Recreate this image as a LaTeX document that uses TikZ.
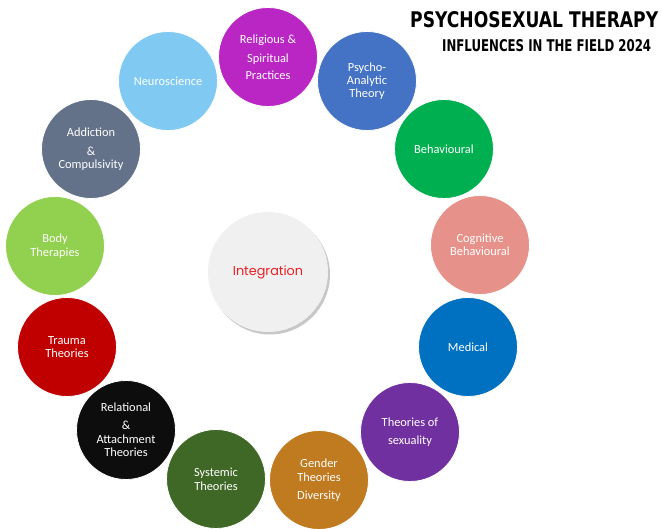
\documentclass[tikz,border=0pt]{standalone}
\usepackage{fontspec}
\setmainfont{Carlito}
\newfontfamily\titlefont{DejaVu Sans}
\newfontfamily\intfont{Poppins}
\usetikzlibrary{shadows}
\definecolor{crelig}{RGB}{185,38,196}
\definecolor{cpsycho}{RGB}{68,114,196}
\definecolor{cneuro}{RGB}{128,201,242}
\definecolor{caddict}{RGB}{99,114,137}
\definecolor{cbody}{RGB}{146,208,80}
\definecolor{ctrauma}{RGB}{192,0,0}
\definecolor{crel}{RGB}{13,13,13}
\definecolor{csys}{RGB}{63,104,38}
\definecolor{cgender}{RGB}{192,122,32}
\definecolor{csex}{RGB}{112,48,160}
\definecolor{cmed}{RGB}{0,112,192}
\definecolor{ccog}{RGB}{230,146,138}
\definecolor{cbeh}{RGB}{0,176,80}
\definecolor{cint}{RGB}{240,240,241}
\definecolor{cinttext}{RGB}{235,30,35}
\begin{document}
\begin{tikzpicture}[x=1pt,y=-1pt]
\useasboundingbox (0,0) rectangle (662,529);
\tikzset{
  bub/.style={circle, minimum size=99pt, inner sep=0pt, draw=white, line width=0.8pt,
    text=white, align=center, font=\fontsize{12.4}{13}\selectfont},
  ttl/.style={anchor=base west, inner sep=0pt}
}
\node[ttl] (t1) at (410,28) {\resizebox{248pt}{16pt}{\titlefont\bfseries PSYCHOSEXUAL THERAPY}};
\node[ttl] (t2) at (442,52) {\resizebox{209pt}{12pt}{\titlefont\bfseries INFLUENCES IN THE FIELD 2024}};

\node[bub, fill=crelig] (relig) at (268,57) {Religious \&\\[6pt]Spiritual\\[4pt]Practices};
\node[bub, fill=cpsycho] (psycho) at (367,81) {Psycho-\\Analytic\\Theory};
\node[bub, fill=cneuro] (neuro) at (168,81) {Neuroscience};
\node[bub, fill=caddict] (addict) at (91,149) {Addiction\\[6pt]\&\\Compulsivity};
\node[bub, fill=cbody] (body) at (55,246) {Body\\[1pt]Therapies};
\node[bub, fill=ctrauma] (trauma) at (67,347) {Trauma\\Theories};
\node[bub, fill=crel] (rel) at (126,430) {Relational\\[5pt]\&\\[1pt]Attachment\\Theories};
\node[bub, fill=csys] (sys) at (216,479) {Systemic\\[1pt]Theories};
\node[bub, fill=cgender] (gender) at (319,480) {Gender\\[1pt]Theories\\[5pt]Diversity};
\node[bub, fill=csex] (sex) at (410,432) {Theories of\\[5pt]sexuality};
\node[bub, fill=cmed] (med) at (468,347) {Medical};
\node[bub, fill=ccog] (cog) at (480,245) {Cognitive\\Behavioural};
\node[bub, fill=cbeh] (beh) at (444,149) {Behavioural};

\node[circle, minimum size=120pt, inner sep=0pt, fill=cint,
  drop shadow={shadow xshift=2pt, shadow yshift=-2.5pt, fill=black, opacity=0.22},
  text=cinttext, font=\intfont\fontsize{12.8}{14}\selectfont] (integ) at (268,272) {Integration};
\end{tikzpicture}
\end{document}
